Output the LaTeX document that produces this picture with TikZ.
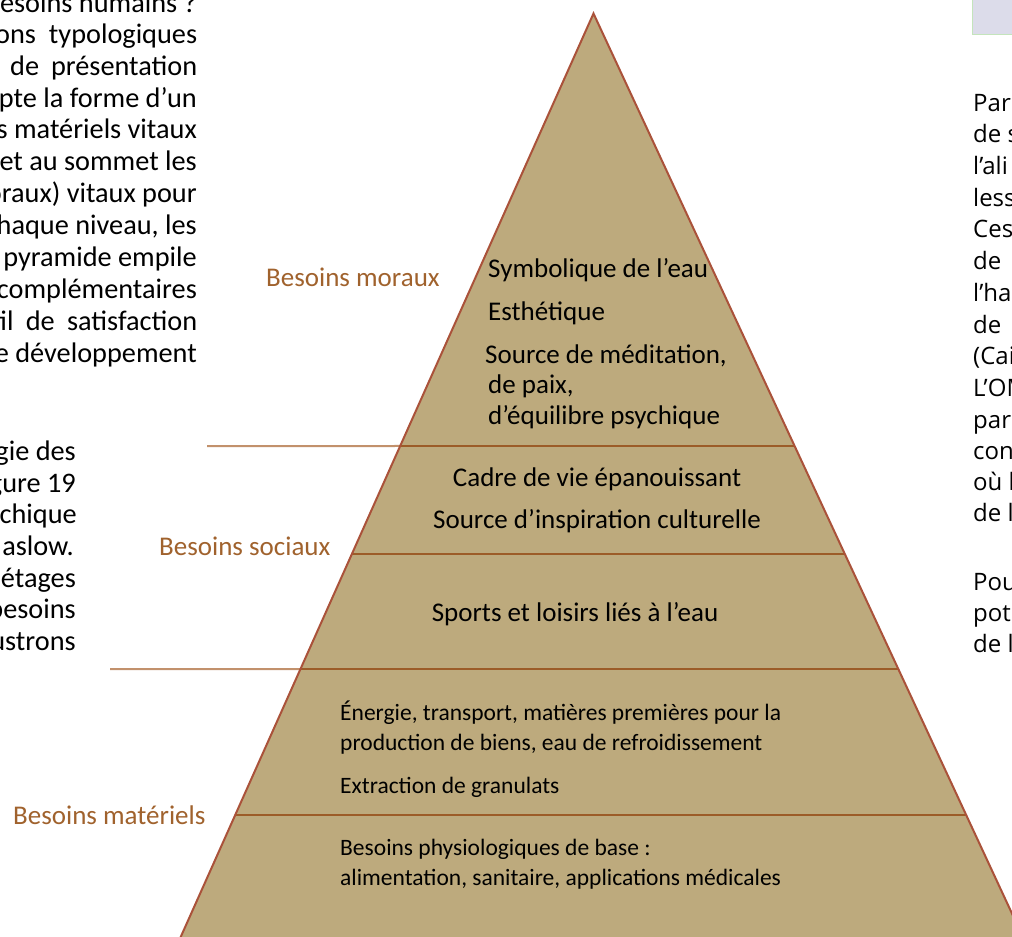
\documentclass[tikz,border=0pt]{standalone}
\usepackage{fontspec}
\setmainfont{Carlito}
\newfontfamily\pagefont{Open Sans}
\usetikzlibrary{calc, positioning}
\definecolor{pyrfill}{RGB}{189,170,125}
\definecolor{pyredge}{RGB}{170,82,58}
\definecolor{layline}{RGB}{156,92,40}
\definecolor{leadline}{RGB}{194,145,108}
\definecolor{lvlcol}{RGB}{160,98,45}
\definecolor{boxfill}{RGB}{220,220,234}
\definecolor{boxedge}{RGB}{196,228,188}
\newcommand{\rows}[1]{\begin{tabular}[t]{@{}l@{}}#1\end{tabular}}

\begin{document}
\begin{tikzpicture}[x=1pt, y=-1pt,
    lvl/.style={text=lvlcol, inner sep=0pt, anchor=base west,
                font=\fontsize{27}{31}\selectfont},
    item/.style={inner sep=0pt, anchor=base west,
                 font=\fontsize{27}{30.5}\selectfont},
    citem/.style={inner sep=0pt, anchor=base,
                  font=\fontsize{27}{30.5}\selectfont},
    low/.style={inner sep=0pt, anchor=base west,
                font=\fontsize{23.5}{30}\selectfont},
    lpage/.style={inner sep=0pt, anchor=base east,
                  font=\fontsize{28.3}{31.7}\selectfont},
    jpage/.style={inner sep=0pt, anchor=base west,
                  font=\fontsize{28.3}{31.7}\selectfont},
    rpage/.style={inner sep=0pt, anchor=base west,
                  font=\pagefont\fontsize{24}{31.7}\selectfont}
  ]
  \useasboundingbox (0,0) rectangle (1012,937);
  \clip (0,0) rectangle (1012,937);

  \coordinate (apex) at (593.5,13.5);
  \coordinate (bl) at (170.4,960);
  \coordinate (br) at (1033.6,960);
  \fill[pyrfill] (apex) -- (bl) -- (br) -- cycle;

  \foreach \yy/\nm in {446/a, 554/b, 669/c, 815/d} {
    \pgfmathsetmacro{\tt}{(\yy-13.5)/946.5}
    \coordinate (l\nm) at ($(apex)!\tt!(bl)$);
    \coordinate (r\nm) at ($(apex)!\tt!(br)$);
    \draw[layline, line width=2.3pt] (l\nm) -- (r\nm);
  }
  \coordinate (leadA) at (207,446);
  \coordinate (leadC) at (110,669);
  \draw[leadline, line width=2pt] (leadA) -- (la);
  \draw[leadline, line width=2pt] (leadC) -- (lc);
  \draw[pyredge, line width=2pt] (bl) -- (apex) -- (br);

  \node[item] (sym)   at (488,277) {Symbolique de l’eau};
  \node[item] (esth)  at (488,320) {Esthétique};
  \node[item] (medit) at (485,363)
    {\rows{Source de méditation,\\\hspace{3pt}de paix,\\\hspace{3pt}d’équilibre psychique}};
  \node[citem] (cadre) at (597,486) {Cadre de vie épanouissant};
  \node[citem] (inspi) at (597,528) {Source d’inspiration culturelle};
  \node[citem] (sport) at (575,621) {Sports et loisirs liés à l’eau};
  \node[low] (energ) at (340,720)
    {\rows{Énergie, transport, matières premières pour la\\production de biens, eau de refroidissement}};
  \node[low] (extr)  at (340,793) {Extraction de granulats};
  \node[low] (physio) at (340,855)
    {\rows{Besoins physiologiques de base :\\alimentation, sanitaire, applications médicales}};

  \node[lvl] (moraux) at (266,286) {Besoins moraux};
  \node[lvl] (sociaux) at (159,555) {Besoins sociaux};
  \node[lvl] (materiels) at (13,824) {Besoins matériels};

  \node[lpage] (p1)  at (197,12)  {Besoins humains ?};
  \node[jpage] (p2)  at (-5,43.5) {\makebox[202pt][s]{ons typologiques}};
  \node[jpage] (p3)  at (10,75)   {\makebox[187pt][s]{de présentation}};
  \node[lpage] (p4)  at (197,107) {adopte la forme d’un};
  \node[lpage] (p5)  at (197,138) {besoins matériels vitaux};
  \node[lpage] (p6)  at (197,170) {base et au sommet les};
  \node[lpage] (p7)  at (197,202) {moraux) vitaux pour};
  \node[lpage] (p8)  at (197,234) {chaque niveau, les};
  \node[lpage] (p9)  at (197,266) {La pyramide empile};
  \node[lpage] (p10) at (197,298) {complémentaires};
  \node[jpage] (p11) at (-8,330)  {\makebox[205pt][s]{fil de satisfaction}};
  \node[lpage] (p12) at (197,362) {de développement};

  \node[lpage] (q1) at (76,460) {logie des};
  \node[lpage] (q2) at (76,492) {figure 19};
  \node[lpage] (q3) at (77,523) {hiérarchique};
  \node[lpage] (q4) at (74,555) {Maslow.};
  \node[lpage] (q5) at (76,587) {étages};
  \node[lpage] (q6) at (76,618) {besoins};
  \node[lpage] (q7) at (76,650) {illustrons};

  \node[draw=boxedge, fill=boxfill, line width=1.2pt, minimum width=60pt,
        minimum height=50pt, anchor=south west] (rbox) at (972,35) {};

  \node[rpage] (r1)  at (973,111) {Parmi};
  \node[rpage] (r2)  at (973,142) {de s};
  \node[rpage] (r3)  at (973,174) {l’ali};
  \node[rpage] (r4)  at (973,206) {less};
  \node[rpage] (r5)  at (973,237) {Ces};
  \node[rpage] (r6)  at (973,269) {de};
  \node[rpage] (r7)  at (973,301) {l’ha};
  \node[rpage] (r8)  at (973,333) {de};
  \node[rpage] (r9)  at (973,364) {(Cai};
  \node[rpage] (r10) at (973,396) {L’OM};
  \node[rpage] (r11) at (973,428) {par};
  \node[rpage] (r12) at (973,459) {con};
  \node[rpage] (r13) at (973,490) {où l};
  \node[rpage] (r14) at (973,521) {de l};
  \node[rpage] (r15) at (973,590) {Pou};
  \node[rpage] (r16) at (973,621) {pot};
  \node[rpage] (r17) at (973,652) {de l};
\end{tikzpicture}
\end{document}
